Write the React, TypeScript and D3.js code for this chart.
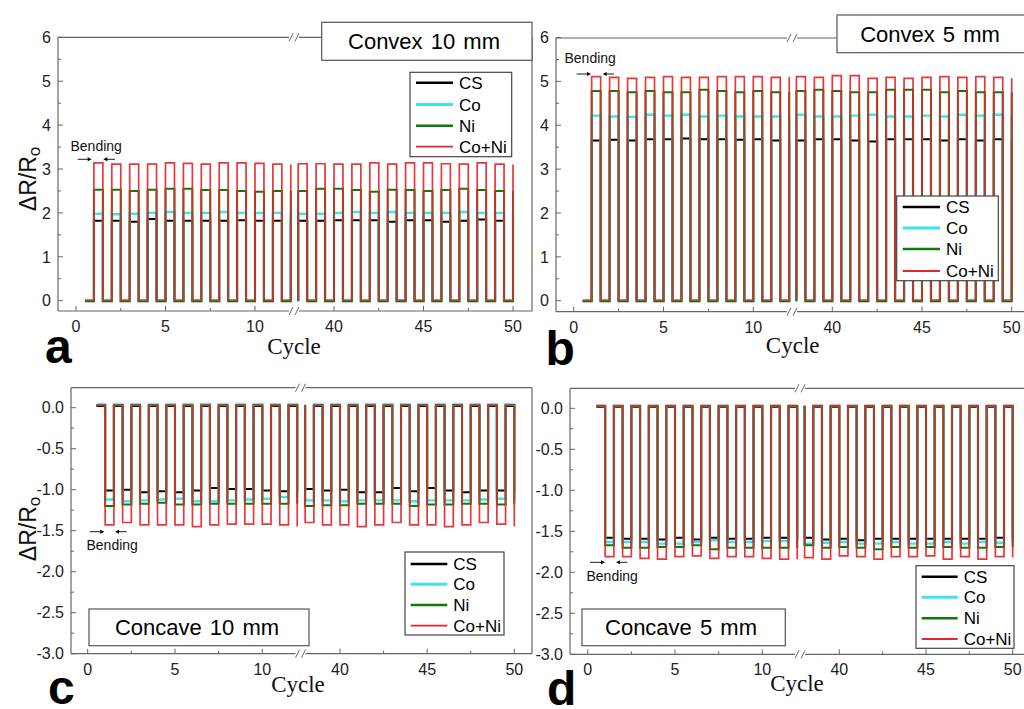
import React from "react";
import * as d3 from "d3";

// ---------- DATA ----------
const SERIES_NAMES = ["CS", "Co", "Ni", "Co+Ni"];
const SERIES_COLORS = ["#000000", "#3fe3f0", "#0e7a0e", "#e8262a"];
const SERIES_WIDTHS = [2, 2.4, 2, 1.7];

// pulse start cycles (left segment ends with a rising edge at 12, right segment at 50)
const CYCLES_LEFT = [1, 2, 3, 4, 5, 6, 7, 8, 9, 10, 11, 12];
const CYCLES_RIGHT = [38, 39, 40, 41, 42, 43, 44, 45, 46, 47, 48, 49, 50];
const LEFT_START = 0.5;
const PULSE_WIDTH = 0.5;

// values during bending (12 left + 13 right)
const A_CS = [1.82, 1.82, 1.8, 1.86, 1.82, 1.82, 1.82, 1.82, 1.83, 1.82, 1.82, 1.82, 1.82, 1.82, 1.83, 1.83, 1.83, 1.8, 1.83, 1.83, 1.8, 1.82, 1.85, 1.82, 1.82];
const A_CO = [1.98, 1.97, 1.98, 2.0, 2.02, 2.0, 2.0, 2.02, 2.0, 2.0, 2.0, 2.0, 1.98, 1.98, 2.0, 2.02, 2.0, 2.02, 2.0, 2.0, 2.0, 2.02, 2.0, 2.0, 2.0];
const A_NI = [2.53, 2.53, 2.5, 2.53, 2.55, 2.55, 2.52, 2.52, 2.5, 2.48, 2.5, 2.5, 2.5, 2.55, 2.55, 2.52, 2.48, 2.53, 2.52, 2.5, 2.52, 2.55, 2.52, 2.5, 2.5];
const A_CONI = [3.14, 3.11, 3.11, 3.11, 3.14, 3.13, 3.11, 3.14, 3.14, 3.13, 3.11, 3.1, 3.12, 3.12, 3.11, 3.11, 3.14, 3.11, 3.14, 3.14, 3.12, 3.11, 3.14, 3.11, 3.1];
const BASE_A = [0.0, -0.01, -0.01, 0.01];

const B_CS = [3.65, 3.67, 3.65, 3.68, 3.68, 3.7, 3.68, 3.68, 3.67, 3.68, 3.65, 3.65, 3.65, 3.68, 3.68, 3.65, 3.63, 3.68, 3.68, 3.68, 3.65, 3.68, 3.65, 3.68, 3.68];
const B_CO = [4.22, 4.2, 4.19, 4.24, 4.22, 4.24, 4.2, 4.22, 4.2, 4.2, 4.2, 4.2, 4.24, 4.2, 4.2, 4.22, 4.24, 4.2, 4.2, 4.22, 4.2, 4.24, 4.22, 4.24, 4.24];
const B_NI = [4.78, 4.78, 4.75, 4.78, 4.75, 4.75, 4.81, 4.78, 4.75, 4.78, 4.75, 4.75, 4.78, 4.81, 4.78, 4.75, 4.75, 4.81, 4.81, 4.81, 4.75, 4.78, 4.75, 4.75, 4.75];
const B_CONI = [5.11, 5.09, 5.07, 5.09, 5.11, 5.09, 5.09, 5.11, 5.11, 5.11, 5.09, 5.1, 5.11, 5.09, 5.13, 5.13, 5.07, 5.09, 5.07, 5.09, 5.11, 5.09, 5.11, 5.09, 5.07];
const BASE_B = [0.0, -0.01, -0.01, 0.01];

const C_CS = [-1.01, -1.0, -1.03, -1.02, -1.03, -1.01, -0.98, -0.99, -0.99, -1.01, -1.02, -1.02, -0.99, -1.01, -1.0, -1.03, -1.03, -0.98, -1.02, -0.98, -1.01, -1.03, -1.01, -1.01, -1.01];
const C_CO = [-1.12, -1.14, -1.13, -1.12, -1.11, -1.14, -1.14, -1.13, -1.12, -1.11, -1.09, -1.1, -1.13, -1.13, -1.14, -1.13, -1.13, -1.13, -1.14, -1.13, -1.13, -1.13, -1.12, -1.11, -1.12];
const C_NI = [-1.2, -1.18, -1.17, -1.16, -1.18, -1.18, -1.17, -1.17, -1.17, -1.17, -1.17, -1.17, -1.2, -1.19, -1.19, -1.17, -1.17, -1.17, -1.2, -1.18, -1.18, -1.17, -1.17, -1.18, -1.18];
const C_CONI = [-1.43, -1.4, -1.43, -1.43, -1.43, -1.45, -1.43, -1.42, -1.42, -1.42, -1.43, -1.45, -1.4, -1.43, -1.43, -1.45, -1.43, -1.4, -1.43, -1.43, -1.45, -1.43, -1.4, -1.42, -1.45];
const BASE_C = [0.02, 0.04, 0.03, 0.03];

const D_CS = [-1.58, -1.59, -1.59, -1.6, -1.58, -1.6, -1.58, -1.59, -1.59, -1.58, -1.58, -1.58, -1.58, -1.6, -1.59, -1.61, -1.59, -1.59, -1.59, -1.59, -1.59, -1.59, -1.59, -1.58, -1.58];
const D_CO = [-1.63, -1.63, -1.63, -1.65, -1.65, -1.63, -1.61, -1.63, -1.63, -1.62, -1.62, -1.62, -1.65, -1.64, -1.63, -1.65, -1.65, -1.63, -1.65, -1.65, -1.63, -1.65, -1.63, -1.64, -1.64];
const D_NI = [-1.67, -1.7, -1.7, -1.69, -1.69, -1.67, -1.72, -1.7, -1.7, -1.7, -1.7, -1.7, -1.67, -1.7, -1.69, -1.7, -1.72, -1.69, -1.7, -1.69, -1.69, -1.7, -1.7, -1.69, -1.69];
const D_CONI = [-1.81, -1.81, -1.83, -1.84, -1.81, -1.8, -1.83, -1.81, -1.81, -1.83, -1.84, -1.84, -1.82, -1.84, -1.8, -1.81, -1.84, -1.81, -1.81, -1.8, -1.84, -1.81, -1.84, -1.81, -1.82];
const BASE_D = [0.02, 0.03, 0.03, 0.03];

const X_TICKS_LEFT = [0, 5, 10];
const X_TICKS_RIGHT = [40, 45, 50];
const X_MINOR_LEFT = [2.5, 7.5];
const X_MINOR_RIGHT = [42.5, 47.5];
const Y_TICKS_CONVEX = [0, 1, 2, 3, 4, 5, 6];
const Y_MINOR_CONVEX = [0.5, 1.5, 2.5, 3.5, 4.5, 5.5];
const Y_TICKS_CONCAVE = [0, -0.5, -1, -1.5, -2, -2.5, -3];
const Y_MINOR_CONCAVE = [-0.25, -0.75, -1.25, -1.75, -2.25, -2.75];

// ---------- LAYOUT ----------
type Box = { x: number; y: number; w: number; h: number };
type Panel = {
  letter: string;
  data: number[][];
  base: number[];
  title: string;
  frame: { l: number; r: number; t: number; b: number };
  yDom: [number, number];
  yRange: [number, number];
  yTicks: number[];
  yMinor: number[];
  yFmt: (v: number) => string;
  xL: [number, number];
  xR: [number, number];
  breakX: number;
  yLabel: { x: number; y: number } | null;
  titleBox: Box;
  titleX: number;
  legend: Box;
  legendRows: number[];
  legendLineX: [number, number];
  bending: { tx: number; ty: number; ay: number; r1: [number, number]; l1: [number, number] };
  letterPos: [number, number];
  cyclePos: [number, number];
};

const fmtInt = (v: number) => d3.format("d")(v);
const fmt1 = (v: number) => d3.format(".1f")(v).replace("−", "-");

const PANELS: Panel[] = [
  {
    letter: "a",
    data: [A_CS, A_CO, A_NI, A_CONI],
    base: BASE_A,
    title: "Convex 10 mm",
    frame: { l: 58, r: 532, t: 37.3, b: 311 },
    yDom: [0, 6],
    yRange: [300.7, 37.3],
    yTicks: Y_TICKS_CONVEX,
    yMinor: Y_MINOR_CONVEX,
    yFmt: fmtInt,
    xL: [76, 255],
    xR: [334, 513],
    breakX: 294,
    yLabel: { x: 28, y: 179 },
    titleBox: { x: 321.7, y: 22.3, w: 210.3, h: 38 },
    titleX: 424,
    legend: { x: 410, y: 72.3, w: 101.7, h: 84.4 },
    legendRows: [82.7, 104.5, 125.8, 146.7],
    legendLineX: [416, 453],
    bending: { tx: 70.5, ty: 150.7, ay: 159.3, r1: [77.7, 91.7], l1: [115, 103.3] },
    letterPos: [45, 363],
    cyclePos: [294, 354],
  },
  {
    letter: "b",
    data: [B_CS, B_CO, B_NI, B_CONI],
    base: BASE_B,
    title: "Convex 5 mm",
    frame: { l: 556, r: 1032, t: 38, b: 311.7 },
    yDom: [0, 6],
    yRange: [300.7, 37.5],
    yTicks: Y_TICKS_CONVEX,
    yMinor: Y_MINOR_CONVEX,
    yFmt: fmtInt,
    xL: [573.7, 753.3],
    xR: [832.3, 1011.7],
    breakX: 792,
    yLabel: null,
    titleBox: { x: 837, y: 15, w: 200, h: 37.7 },
    titleX: 930,
    legend: { x: 896.7, y: 196, w: 101.6, h: 84.7 },
    legendRows: [207, 228, 249, 271],
    legendLineX: [902.7, 940],
    bending: { tx: 564.5, ty: 62.7, ay: 74, r1: [576.7, 591], l1: [614, 602.7] },
    letterPos: [545.5, 365],
    cyclePos: [792.7, 353],
  },
  {
    letter: "c",
    data: [C_CS, C_CO, C_NI, C_CONI],
    base: BASE_C,
    title: "Concave 10 mm",
    frame: { l: 71, r: 532, t: 387.7, b: 653.7 },
    yDom: [0, -3],
    yRange: [407.7, 653.7],
    yTicks: Y_TICKS_CONCAVE,
    yMinor: Y_MINOR_CONCAVE,
    yFmt: fmt1,
    xL: [87.7, 262.3],
    xR: [340, 514.3],
    breakX: 300.5,
    yLabel: { x: 28, y: 529 },
    titleBox: { x: 89, y: 609, w: 220, h: 36.7 },
    titleX: 197,
    legend: { x: 405, y: 552, w: 99, h: 83 },
    legendRows: [564, 584.3, 605, 625.7],
    legendLineX: [410.7, 447.3],
    bending: { tx: 86.5, ty: 550, ay: 531.7, r1: [90, 104.3], l1: [126.7, 115] },
    letterPos: [48, 704],
    cyclePos: [298, 692],
  },
  {
    letter: "d",
    data: [D_CS, D_CO, D_NI, D_CONI],
    base: BASE_D,
    title: "Concave 5 mm",
    frame: { l: 570, r: 1032, t: 388.3, b: 654.3 },
    yDom: [0, -3],
    yRange: [408.3, 654.3],
    yTicks: Y_TICKS_CONCAVE,
    yMinor: Y_MINOR_CONCAVE,
    yFmt: fmt1,
    xL: [587.7, 762.3],
    xR: [839.3, 1012.7],
    breakX: 800,
    yLabel: null,
    titleBox: { x: 582, y: 609, w: 203.3, h: 36.7 },
    titleX: 681,
    legend: { x: 916, y: 565.7, w: 98, h: 82.6 },
    legendRows: [576.7, 597.3, 618.3, 639],
    legendLineX: [921.7, 957.7],
    bending: { tx: 586.5, ty: 581, ay: 562.3, r1: [590, 605], l1: [627.3, 616] },
    letterPos: [547, 705],
    cyclePos: [797, 691],
  },
];

const SANS = "Arial, 'Liberation Sans', sans-serif";
const SERIF = "'Times New Roman', 'Liberation Serif', serif";
const AXIS = "#666";

function buildSegments(values: number[], base: number) {
  const left: [number, number][] = [[LEFT_START, base]];
  CYCLES_LEFT.forEach((c, i) => {
    const v = values[i];
    left.push([c, base], [c, v]);
    if (i < CYCLES_LEFT.length - 1) left.push([c + PULSE_WIDTH, v], [c + PULSE_WIDTH, base]);
  });
  const right: [number, number][] = [];
  CYCLES_RIGHT.forEach((c, j) => {
    const v = values[CYCLES_LEFT.length + j];
    right.push([c, base], [c, v]);
    if (j < CYCLES_RIGHT.length - 1) right.push([c + PULSE_WIDTH, v], [c + PULSE_WIDTH, base]);
  });
  return { left, right };
}

function Arrow({ x1, x2, y }: { x1: number; x2: number; y: number }) {
  const dir = x2 > x1 ? 1 : -1;
  return (
    <g>
      <line x1={x1} y1={y} x2={x2 - dir * 3} y2={y} stroke="#000" strokeWidth={0.9} />
      <path d={`M${x2},${y} L${x2 - dir * 4},${y - 2} L${x2 - dir * 4},${y + 2} Z`} fill="#000" />
    </g>
  );
}

function PanelView({ p }: { p: Panel }) {
  const y = d3.scaleLinear().domain(p.yDom).range(p.yRange);
  const xl = d3.scaleLinear().domain([0, 10]).range(p.xL);
  const xr = d3.scaleLinear().domain([40, 50]).range(p.xR);
  const { l, r, t, b } = p.frame;
  const bx = p.breakX;
  const gap = 5;

  const lineL = d3.line<[number, number]>().x((d) => xl(d[0])).y((d) => y(d[1]));
  const lineR = d3.line<[number, number]>().x((d) => xr(d[0])).y((d) => y(d[1]));

  const slashes = (yy: number) => (
    <g stroke={AXIS} strokeWidth={1}>
      <line x1={bx - 5} y1={yy + 4} x2={bx - 1} y2={yy - 4} />
      <line x1={bx + 1} y1={yy + 4} x2={bx + 5} y2={yy - 4} />
    </g>
  );

  return (
    <g>
      {/* frame */}
      <g stroke={AXIS} strokeWidth={1.2} fill="none">
        <line x1={l} y1={t} x2={l} y2={b} />
        <line x1={r} y1={t} x2={r} y2={b} />
        <line x1={l} y1={b} x2={bx - gap} y2={b} />
        <line x1={bx + gap} y1={b} x2={r} y2={b} />
        <line x1={l} y1={t} x2={bx - gap} y2={t} />
        <line x1={bx + gap} y1={t} x2={r} y2={t} />
      </g>
      {slashes(b)}
      {slashes(t)}

      {/* y ticks */}
      {p.yTicks.map((v) => (
        <g key={"yt" + v}>
          <line x1={l} x2={l + 5} y1={y(v)} y2={y(v)} stroke={AXIS} strokeWidth={1} />
          <text x={l - 7} y={y(v)} dy="0.36em" textAnchor="end" fontFamily={SANS} fontSize={16} fill="#222">
            {p.yFmt(v)}
          </text>
        </g>
      ))}
      {p.yMinor.map((v) => (
        <line key={"ym" + v} x1={l} x2={l + 3} y1={y(v)} y2={y(v)} stroke={AXIS} strokeWidth={1} />
      ))}

      {/* x ticks */}
      {X_TICKS_LEFT.map((v) => (
        <g key={"xl" + v}>
          <line x1={xl(v)} x2={xl(v)} y1={b} y2={b - 5} stroke={AXIS} strokeWidth={1} />
          <text x={xl(v)} y={b + 21} textAnchor="middle" fontFamily={SANS} fontSize={16} fill="#222">
            {v}
          </text>
        </g>
      ))}
      {X_TICKS_RIGHT.map((v) => (
        <g key={"xr" + v}>
          <line x1={xr(v)} x2={xr(v)} y1={b} y2={b - 5} stroke={AXIS} strokeWidth={1} />
          <text x={xr(v)} y={b + 21} textAnchor="middle" fontFamily={SANS} fontSize={16} fill="#222">
            {v}
          </text>
        </g>
      ))}
      {X_MINOR_LEFT.map((v) => (
        <line key={"xml" + v} x1={xl(v)} x2={xl(v)} y1={b} y2={b - 3} stroke={AXIS} strokeWidth={1} />
      ))}
      {X_MINOR_RIGHT.map((v) => (
        <line key={"xmr" + v} x1={xr(v)} x2={xr(v)} y1={b} y2={b - 3} stroke={AXIS} strokeWidth={1} />
      ))}

      {/* data */}
      {p.data.map((vals, si) => {
        const seg = buildSegments(vals, p.base[si]);
        return (
          <g key={"s" + si} fill="none" stroke={SERIES_COLORS[si]} strokeWidth={SERIES_WIDTHS[si]} strokeLinejoin="miter" opacity={si === 3 ? 0.92 : 1}>
            <path d={lineL(seg.left) || ""} />
            <path d={lineR(seg.right) || ""} />
          </g>
        );
      })}

      {/* title box */}
      <rect x={p.titleBox.x} y={p.titleBox.y} width={p.titleBox.w} height={p.titleBox.h} fill="#fff" stroke="#555" strokeWidth={1.2} />
      <text x={p.titleX} y={p.titleBox.y + p.titleBox.h / 2} dy="0.36em" textAnchor="middle" fontFamily={SANS} fontSize={22} fill="#000" wordSpacing={2}>
        {p.title}
      </text>

      {/* legend */}
      <rect x={p.legend.x} y={p.legend.y} width={p.legend.w} height={p.legend.h} fill="#fff" stroke="#444" strokeWidth={1.2} />
      {SERIES_NAMES.map((n, i) => (
        <g key={"lg" + n}>
          <line x1={p.legendLineX[0]} x2={p.legendLineX[1]} y1={p.legendRows[i]} y2={p.legendRows[i]} stroke={SERIES_COLORS[i]} strokeWidth={i === 1 ? 3 : i === 3 ? 1.8 : 2.6} />
          <text x={p.legendLineX[1] + 6} y={p.legendRows[i]} dy="0.36em" fontFamily={SANS} fontSize={17} fill="#000">
            {n}
          </text>
        </g>
      ))}

      {/* bending annotation */}
      <text x={p.bending.tx} y={p.bending.ty} fontFamily={SANS} fontSize={14} fill="#111">
        Bending
      </text>
      <Arrow x1={p.bending.r1[0]} x2={p.bending.r1[1]} y={p.bending.ay} />
      <Arrow x1={p.bending.l1[0]} x2={p.bending.l1[1]} y={p.bending.ay} />

      {/* axis titles */}
      <text x={p.cyclePos[0]} y={p.cyclePos[1]} textAnchor="middle" fontFamily={SERIF} fontSize={23} fill="#111">
        Cycle
      </text>
      {p.yLabel && (
        <text transform={`translate(${p.yLabel.x},${p.yLabel.y}) rotate(-90)`} textAnchor="middle" dy="0.36em" fontFamily={SANS} fontSize={23} fill="#111">
          ΔR/R
          <tspan fontSize={17} dy="4">o</tspan>
        </text>
      )}

      {/* panel letter */}
      <text x={p.letterPos[0]} y={p.letterPos[1]} fontFamily={SANS} fontWeight="bold" fontSize={48} fill="#000">
        {p.letter}
      </text>
    </g>
  );
}

export default function App() {
  return (
    <svg width={1024} height={709} style={{ position: "absolute", left: 0, top: 0, background: "#fff" }}>
      <rect x={0} y={0} width={1024} height={709} fill="#fff" />
      {PANELS.map((p) => (
        <PanelView key={p.letter} p={p} />
      ))}
    </svg>
  );
}
